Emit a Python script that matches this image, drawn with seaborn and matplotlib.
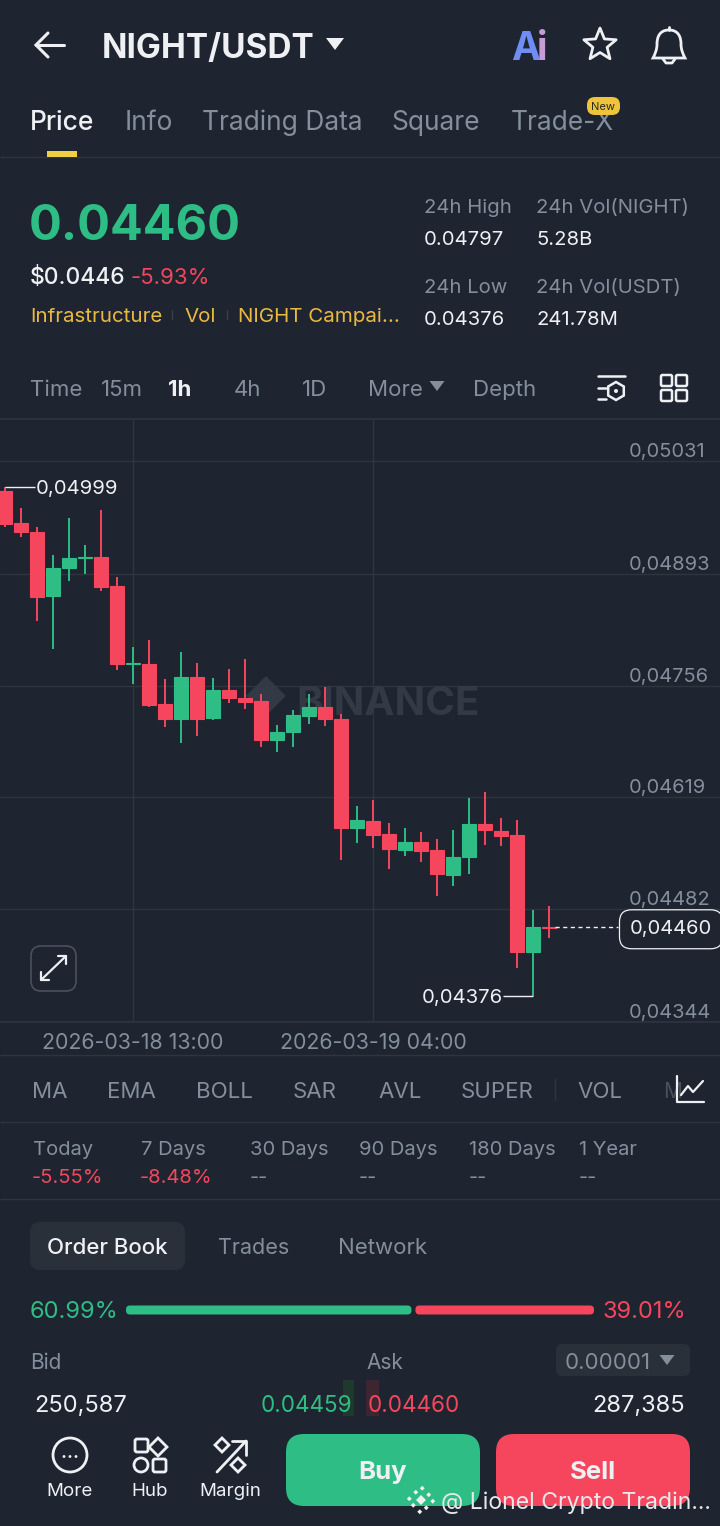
import matplotlib
matplotlib.use('Agg')
import matplotlib.pyplot as plt
from matplotlib.patches import FancyBboxPatch, Polygon, PathPatch, Circle
from matplotlib.path import Path
import numpy as np
import pandas as pd
import seaborn as sns

# Candles, hourly, oldest first
opens = [0.04994, 0.04955, 0.04944, 0.04866, 0.04900, 0.04912, 0.04913, 0.04878, 0.04782,
         0.04782, 0.04733, 0.04715, 0.04766, 0.04716, 0.04751, 0.04741, 0.04737, 0.04689,
         0.04699, 0.04719, 0.04730, 0.04715, 0.04582, 0.04590, 0.04574, 0.04555, 0.04564,
         0.04555, 0.04524, 0.04546, 0.04587, 0.04578, 0.04573, 0.04430, 0.04460]
highs = [0.04999, 0.04973, 0.04950, 0.04916, 0.04961, 0.04928, 0.04971, 0.04889, 0.04803,
         0.04812, 0.04764, 0.04797, 0.04784, 0.04765, 0.04776, 0.04789, 0.04746, 0.04708,
         0.04726, 0.04746, 0.04754, 0.04721, 0.04609, 0.04616, 0.04588, 0.04582, 0.04577,
         0.04568, 0.04579, 0.04618, 0.04626, 0.04594, 0.04591, 0.04481, 0.04486]
lows = [0.04950, 0.04938, 0.04835, 0.04801, 0.04884, 0.04893, 0.04872, 0.04775, 0.04758,
        0.04730, 0.04705, 0.04686, 0.04694, 0.04714, 0.04735, 0.04727, 0.04681, 0.04675,
        0.04681, 0.04709, 0.04707, 0.04542, 0.04563, 0.04557, 0.04531, 0.04547, 0.04540,
        0.04498, 0.04511, 0.04525, 0.04561, 0.04560, 0.04410, 0.04376, 0.04447]
closes = [0.04954, 0.04944, 0.04864, 0.04900, 0.04912, 0.04913, 0.04877, 0.04782, 0.04783,
          0.04732, 0.04715, 0.04766, 0.04715, 0.04751, 0.04741, 0.04736, 0.04689, 0.04699,
          0.04720, 0.04730, 0.04715, 0.04582, 0.04591, 0.04573, 0.04556, 0.04564, 0.04553,
          0.04525, 0.04546, 0.04587, 0.04579, 0.04572, 0.04430, 0.04460, 0.04459]

y_ticks = [0.05031, 0.04893, 0.04756, 0.04619, 0.04482, 0.04344]
time_positions = [8, 23]
time_labels = ['2026-03-18 13:00', '2026-03-19 04:00']
high_price, high_candle = 0.04999, 0
low_price, low_candle = 0.04376, 33
last_price = 0.04460

tabs = ['Price', 'Info', 'Trading Data', 'Square', 'Trade-X']
tab_x = [30, 125, 202, 391, 511]
intervals = ['Time', '15m', '1h', '4h', '1D', 'More', 'Depth']
interval_x = [30, 101, 168, 234, 302, 368, 473]
indicators = ['MA', 'EMA', 'BOLL', 'SAR', 'AVL', 'SUPER', 'VOL']
indicator_x = [32, 107, 196, 293, 378, 461, 577]
periods = ['Today', '7 Days', '30 Days', '90 Days', '180 Days', '1 Year']
period_values = ['-5.55%', '-8.48%', '--', '--', '--', '--']
period_x = [33, 141, 250, 359, 469, 579]
bid_share, ask_share = 60.99, 39.01

BG = '#1e2530'
GRID = '#2f353f'
GREEN = '#2ebd85'
RED = '#f6465d'
GREY = '#848e9c'
WHITE = '#eef0f3'
YELLOW = '#eab93f'
FONT = 'Inter'

sns.set_theme(style='dark', rc={'axes.facecolor': BG, 'figure.facecolor': BG})
plt.rcParams['font.family'] = [FONT, 'DejaVu Sans']

df = pd.DataFrame({'pos': range(len(opens)), 'open': opens, 'high': highs, 'low': lows, 'close': closes})
df['up'] = df['close'] >= df['open']
df['base'] = df[['open', 'close']].min(axis=1)
df['body'] = (df['close'] - df['open']).abs()

fig = plt.figure(figsize=(7.2, 15.26), dpi=100)

# pixel canvas for the app chrome
ui = fig.add_axes([0, 0, 1, 1], zorder=2)
ui.set_xlim(0, 720)
ui.set_ylim(1526, 0)
ui.axis('off')

# chart area
ax = fig.add_axes([0, 1 - 1022 / 1526, 1, 603 / 1526], zorder=1)
for up, color in [(True, GREEN), (False, RED)]:
    part = df[df['up'] == up]
    ax.vlines(part['pos'], part['low'], part['high'], color=color, lw=1.4, zorder=3)
    sns.barplot(data=part, x='pos', y='body', bottom=part['base'], native_scale=True, width=0.83,
                color=color, saturation=1, errorbar=None, edgecolor=color, linewidth=0.8,
                ax=ax, zorder=3)

ax.set_xlim(-5 / 16, 715 / 16)
ax.set_ylim(0.04344, 0.050824)
ax.set_xlabel('')
ax.set_ylabel('')
ax.set_xticks(time_positions, time_labels)
ax.yaxis.tick_right()
ax.set_yticks(y_ticks, [f'{v:.5f}'.replace('.', ',') for v in y_ticks])
ax.grid(True, color=GRID, lw=1)
ax.set_axisbelow(True)
ax.tick_params(axis='x', length=0, pad=8, labelsize=15.4, labelcolor=GREY)
ax.tick_params(axis='y', length=0, pad=-66, labelsize=14.4, labelcolor=GREY, right=False, labelright=True)
for lab in ax.get_yticklabels():
    lab.set_va('bottom')
for side, spine in ax.spines.items():
    spine.set_visible(side in ('top', 'bottom'))
    spine.set_color(GRID)

# watermark
ax.text(0.411, 0.533, 'BINANCE', transform=ax.transAxes, ha='left', va='center_baseline', fontsize=29,
        fontweight='bold', color='#343a45', zorder=2)
ax.text(0.369, 0.536, '\u25c6', transform=ax.transAxes, ha='center', va='center', fontsize=30,
        color='#343a45', zorder=2)

# extreme and last price labels
ax.hlines(high_price, high_candle, high_candle + 1.9, color=WHITE, lw=1, zorder=3)
ax.annotate(f'{high_price:.5f}'.replace('.', ','), xy=(high_candle + 1.9, high_price), xytext=(0, 0),
            textcoords='offset points', va='center_baseline', ha='left', fontsize=14.6, color=WHITE)
ax.hlines(low_price, low_candle - 1.85, low_candle, color=WHITE, lw=1, zorder=3)
ax.annotate(f'{low_price:.5f}'.replace('.', ','), xy=(low_candle - 1.85, low_price), xytext=(0, 0),
            textcoords='offset points', va='center_baseline', ha='right', fontsize=14.6, color=WHITE)
ax.hlines(last_price, 34.4, 38.3, color=WHITE, lw=1, ls=(0, (3, 2.5)), zorder=3)
ax.text(39.06, last_price, f'{last_price:.5f}'.replace('.', ','), va='center_baseline', ha='left', fontsize=14.5,
        color=WHITE, zorder=5,
        bbox=dict(boxstyle='round,pad=0.52,rounding_size=0.6', fc=BG, ec=WHITE, lw=0.9))


def txt(x, y, s, size=14, color=GREY, ha='left', weight='normal', **kw):
    ui.text(x, y, s, fontsize=size, color=color, ha=ha, va='center_baseline', fontweight=weight, **kw)


def rrect(x0, y0, x1, y1, r, fc='none', ec='none', lw=0, z=1):
    ui.add_patch(FancyBboxPatch((x0 + r, y0 + r), x1 - x0 - 2 * r, y1 - y0 - 2 * r,
                                boxstyle=f'round,pad={r},rounding_size={r}', fc=fc, ec=ec, lw=lw, zorder=z))


def tri(cx, cy, w, h, color):
    ui.add_patch(Polygon([(cx - w / 2, cy - h / 2), (cx + w / 2, cy - h / 2), (cx, cy + h / 2)], fc=color, ec='none'))


def hline(y, color=GRID):
    ui.plot([0, 720], [y, y], color=color, lw=1, solid_capstyle='butt')


# header
ui.plot([36, 64], [45, 45], color=WHITE, lw=2.2)
ui.plot([48, 36, 48], [33, 45, 57], color=WHITE, lw=2.2, solid_joinstyle='miter')
txt(102, 45, 'NIGHT/USDT', 24, WHITE, weight='bold')
tri(335, 44, 18, 12, WHITE)
txt(511, 46, 'A', 28, '#6f8df2', weight='bold')
txt(537, 46, 'i', 28, '#c79ad8', weight='bold')
angles = np.deg2rad(np.arange(10) * 36 - 90)
radii = np.where(np.arange(10) % 2 == 0, 17, 7.5)
ui.add_patch(Polygon(np.c_[600 + radii * np.cos(angles), 45 + radii * np.sin(angles)],
                     fc='none', ec=WHITE, lw=2, joinstyle='round'))
bell = Path([(669, 30), (659, 30), (657, 38), (657, 44), (657, 50), (655, 54), (653, 58), (685, 58),
             (683, 54), (681, 50), (681, 44), (681, 38), (679, 30), (669, 30)],
            [1, 4, 4, 4, 4, 4, 4, 2, 4, 4, 4, 4, 4, 4])
ui.add_patch(PathPatch(bell, fc='none', ec=WHITE, lw=2))
ui.plot([663, 666, 672, 675], [59, 63, 63, 59], color=WHITE, lw=2)
ui.plot([669, 669], [27, 30], color=WHITE, lw=2)

# tabs
for i, (name, x) in enumerate(zip(tabs, tab_x)):
    txt(x, 120, name, 19, WHITE if i == 0 else GREY, weight='medium' if i == 0 else 'normal')
rrect(587, 97, 620, 115, 8, fc='#f0c33c', z=3)
ui.text(603.5, 106, 'New', fontsize=8, color='#2a2a20', ha='center', va='center_baseline', zorder=4)
ui.add_patch(plt.Rectangle((47, 151), 30, 6, fc='#f0d040', ec='none', zorder=3))
hline(157)

# price block
txt(29, 222, '0.04460', 35, GREEN, weight='bold')
txt(30, 276, '$0.0446', 16.5, WHITE, weight='medium')
txt(131, 276, '-5.93%', 16, RED)
txt(30, 315, 'Infrastructure', 14.8, YELLOW)
txt(184, 315, 'Vol', 14.8, YELLOW)
txt(238, 315, 'NIGHT Campai...', 14.8, YELLOW)
ui.plot([172, 172], [310, 319], color='#3a404b', lw=1)
ui.plot([227, 227], [310, 319], color='#3a404b', lw=1)
for x, head, val, y in [(424, '24h High', '0.04797', 206), (536, '24h Vol(NIGHT)', '5.28B', 206),
                        (424, '24h Low', '0.04376', 286), (536, '24h Vol(USDT)', '241.78M', 286)]:
    txt(x, y, head, 14.6, GREY)
    txt(x, y + 32, val, 14.6, WHITE)

# interval row
for name, x in zip(intervals, interval_x):
    txt(x, 388, name, 16, WHITE if name == '1h' else GREY, weight='bold' if name == '1h' else 'normal')
tri(437, 386, 15, 10, GREY)
ui.plot([598, 625], [376, 376], color=WHITE, lw=1.8)
ui.plot([598, 606], [388, 388], color=WHITE, lw=1.8)
ui.plot([598, 606], [399, 399], color=WHITE, lw=1.8)
hexa = np.deg2rad(np.arange(6) * 60 + 30)
ui.add_patch(Polygon(np.c_[616 + 9 * np.cos(hexa), 391 + 9 * np.sin(hexa)], fc='none', ec=WHITE, lw=1.8))
ui.add_patch(Circle((616, 391), 2, fc=WHITE, ec='none'))
for x0 in (661, 676):
    for y0 in (375, 390):
        rrect(x0, y0, x0 + 11, y0 + 11, 1.5, ec=WHITE, lw=1.8)

# expand button
rrect(31, 946, 76, 991, 10, fc=BG, ec='#4b515c', lw=1.2, z=3)
ui.plot([41, 66], [980, 956], color=WHITE, lw=1.6, zorder=4)
ui.plot([41, 41, 49], [972, 980, 980], color=WHITE, lw=1.6, zorder=4)
ui.plot([58, 66, 66], [956, 956, 964], color=WHITE, lw=1.6, zorder=4)

hline(1055)
for name, x in zip(indicators, indicator_x):
    txt(x, 1090, name, 16, GREY)
ui.plot([555, 555], [1079, 1100], color=GRID, lw=1)
txt(663, 1090, 'M', 15, '#4b515c')
ui.plot([677, 677, 704], [1076, 1102, 1102], color=WHITE, lw=1.6, zorder=3)
ui.plot([681, 688, 693, 703], [1095, 1086, 1092, 1081], color=WHITE, lw=1.6, zorder=3)
hline(1122)

for name, val, x in zip(periods, period_values, period_x):
    txt(x, 1148, name, 14.5, GREY)
    txt(x + (-1 if val != '--' else 0), 1176, val, 14.5, RED if val != '--' else GREY)
hline(1199)

# order book
rrect(30, 1222, 185, 1270, 10, fc='#2a303a')
txt(47, 1246, 'Order Book', 16, WHITE, weight='medium')
txt(218, 1246, 'Trades', 15.5, GREY)
txt(338, 1246, 'Network', 16, GREY)

txt(30, 1310, f'{bid_share:.2f}%', 17, GREEN)
txt(603, 1310, f'{ask_share:.2f}%', 17, RED)
bar_x0, bar_x1, gap = 126, 594, 4
split = bar_x0 + (bar_x1 - bar_x0) * bid_share / (bid_share + ask_share)
rrect(bar_x0, 1305.5, split, 1314.5, 4, fc=GREEN)
rrect(split + gap, 1305.5, bar_x1, 1314.5, 4, fc=RED)

txt(30, 1361, 'Bid', 15, GREY)
txt(366, 1361, 'Ask', 15, GREY)
rrect(556, 1344, 690, 1376, 6, fc='#2a303a')
txt(565, 1361, '0.00001', 16, GREY)
tri(667, 1360, 15, 10, GREY)
ui.add_patch(plt.Rectangle((343, 1380), 11, 36, fc='#20392f', ec='none'))
ui.add_patch(plt.Rectangle((366, 1380), 13, 36, fc='#3e2631', ec='none'))
txt(34, 1404, '250,587', 17, WHITE)
txt(352, 1404, '0.04459', 16.2, GREEN, ha='right')
txt(368, 1404, '0.04460', 16.2, RED)
txt(685, 1404, '287,385', 17, WHITE, ha='right')

# bottom bar
ui.add_patch(Circle((70, 1455), 17, fc='none', ec=WHITE, lw=2))
txt(70, 1451, '\u2026', 13, WHITE, ha='center', weight='bold')
txt(70, 1490, 'More', 13.5, WHITE, ha='center')
rrect(135, 1439, 148, 1452, 2, ec=WHITE, lw=2)
ui.add_patch(Polygon([(158, 1438), (167, 1447), (158, 1456), (149, 1447)], fc='none', ec=WHITE, lw=2))
ui.add_patch(Circle((141, 1465), 7, fc='none', ec=WHITE, lw=2))
rrect(153, 1459, 166, 1472, 2, ec=WHITE, lw=2)
txt(150, 1490, 'Hub', 13.5, WHITE, ha='center')
ui.plot([217, 246], [1472, 1441], color=WHITE, lw=2)
ui.plot([232, 246, 246], [1441, 1441, 1455], color=WHITE, lw=2)
ui.add_patch(Polygon([(222, 1438), (229, 1445), (222, 1452), (215, 1445)], fc='none', ec=WHITE, lw=2))
ui.add_patch(Polygon([(238, 1458), (245, 1465), (238, 1472), (231, 1465)], fc='none', ec=WHITE, lw=2))
txt(230, 1490, 'Margin', 13.5, WHITE, ha='center')
rrect(286, 1434, 480, 1506, 18, fc=GREEN)
rrect(496, 1434, 690, 1506, 18, fc=RED)
txt(383, 1470, 'Buy', 18.5, WHITE, ha='center', weight='bold', zorder=3)
txt(593, 1470, 'Sell', 18.5, WHITE, ha='center', weight='bold', zorder=3)
ui.add_patch(Polygon([(421, 1487), (434, 1500), (421, 1513), (408, 1500)], fc='none', ec=WHITE, lw=2.5, ls=':', zorder=5))
ui.add_patch(Polygon([(421, 1495), (426, 1500), (421, 1505), (416, 1500)], fc=WHITE, ec='none', zorder=5))
txt(441, 1500, '@ Lionel Crypto Tradin...', 16.6, '#e6e8ea', zorder=5)

fig.savefig('out.png', dpi=100, facecolor=BG)
